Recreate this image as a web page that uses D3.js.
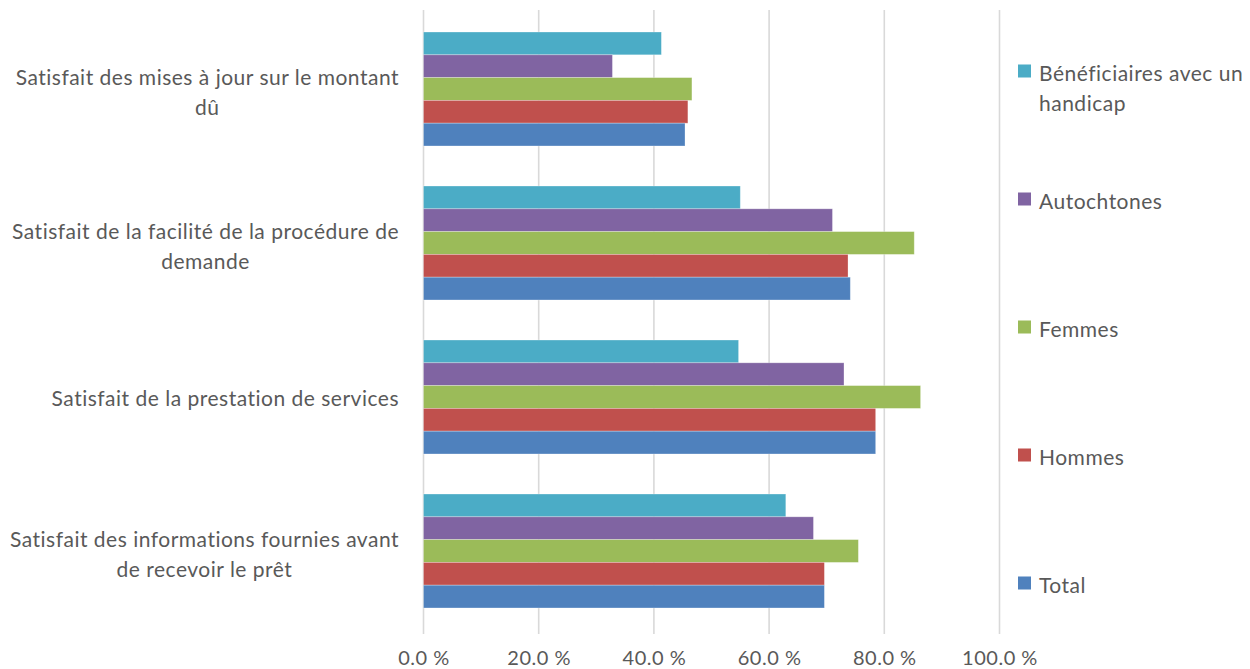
<!DOCTYPE html>
<html><head><meta charset="utf-8">
<script src="https://cdn.jsdelivr.net/npm/d3@7"></script>
<style>
html,body{margin:0;padding:0;background:#fff;}
svg text{font-family:Lato,"Open Sans",sans-serif;fill:#595959;letter-spacing:0.5px;}
</style></head>
<body>
<svg id="chart" width="1250" height="669"></svg>
<script>
const categories = [
  "Satisfait des mises à jour sur le montant dû",
  "Satisfait de la facilité de la procédure de demande",
  "Satisfait de la prestation de services",
  "Satisfait des informations fournies avant de recevoir le prêt"
];
const seriesNames = ["Bénéficiaires avec un handicap","Autochtones","Femmes","Hommes","Total"];
const beneficiaires = [41.3, 55.0, 54.7, 62.9];
const autochtones   = [32.8, 71.0, 73.0, 67.7];
const femmes        = [46.6, 85.2, 86.3, 75.5];
const hommes        = [45.9, 73.7, 78.5, 69.6];
const total         = [45.4, 74.1, 78.5, 69.6];
const ticks = [0, 20, 40, 60, 80, 100];
const colors = ["#4BACC6","#8064A2","#9BBB59","#C0504D","#4F81BD"];

const seriesValues = [beneficiaires, autochtones, femmes, hommes, total];
const svg = d3.select("#chart");
const plotLeft = 423.5, plotRight = 999.5, plotTop = 12, plotBottom = 628;
const fontSize = 21, lineH = 30;

const x = d3.scaleLinear().domain([0,100]).range([plotLeft,plotRight]);
const y = d3.scaleBand().domain(categories).range([plotTop,plotBottom]).paddingInner(0.26).paddingOuter(0.13);
const yInner = d3.scaleBand().domain(seriesNames).range([0,y.bandwidth()]);
const color = d3.scaleOrdinal().domain(seriesNames).range(colors);

// gridlines
svg.append("g").selectAll("line").data(ticks).join("line")
  .attr("x1", d=>x(d)).attr("x2", d=>x(d))
  .attr("y1", 10).attr("y2", 634)
  .attr("stroke", "#d9d9d9").attr("stroke-width", 1.6);

// bars
const data = [];
categories.forEach((c,i)=>seriesNames.forEach((s,j)=>data.push({c, s, v: seriesValues[j][i]})));
svg.append("g").selectAll("rect").data(data).join("rect")
  .attr("x", x(0))
  .attr("y", d=>y(d.c)+yInner(d.s))
  .attr("width", d=>x(d.v)-x(0))
  .attr("height", yInner.bandwidth())
  .attr("fill", d=>color(d.s))
  .attr("stroke", "rgba(255,255,255,0.35)").attr("stroke-width", 0.8);

// x axis labels
const xAxis = d3.axisBottom(x).tickValues(ticks).tickSize(0).tickFormat(d=>d3.format(".1f")(d)+" %");
const gx = svg.append("g").attr("transform", `translate(0,${plotBottom})`).call(xAxis);
gx.select(".domain").remove();
gx.selectAll("text").attr("dy", null).attr("y", 37).attr("font-size", 20)
  .style("font-family","Lato,'Open Sans',sans-serif").attr("fill","#595959");

function measure(text, fs){
  const tmp = svg.append("text").attr("font-size", fs).text(text);
  const w = tmp.node().getComputedTextLength();
  tmp.remove();
  return w;
}
function wrapWords(text, maxW, fs){
  const words = text.split(" ");
  const lines = []; let cur = "";
  words.forEach(w=>{
    const t = cur ? cur+" "+w : w;
    if (measure(t, fs) > maxW && cur){ lines.push(cur); cur = w; }
    else cur = t;
  });
  if (cur) lines.push(cur);
  return lines;
}

// category labels (block right-aligned, lines centred within block)
const gy = svg.append("g");
categories.forEach(c=>{
  const lines = wrapWords(c, 398, fontSize);
  const blockW = d3.max(lines, l=>measure(l, fontSize));
  const cx = 399 - blockW/2;
  const cy = y(c) + y.bandwidth()/2 + (lines.length>1 ? 2 : 0);
  const t = gy.append("text").attr("text-anchor","middle").attr("font-size",fontSize)
    .attr("dominant-baseline","central");
  lines.forEach((l,k)=>{
    t.append("tspan").attr("x",cx).attr("y", cy - (lines.length-1)*lineH/2 + k*lineH).text(l);
  });
});

// legend
const legY = d3.scalePoint().domain(seriesNames).range([72,584]);
const lg = svg.append("g");
seriesNames.forEach(s=>{
  const yy = legY(s);
  lg.append("rect").attr("x",1018).attr("y",yy-7.5).attr("width",13).attr("height",13).attr("fill",color(s));
  const lines = wrapWords(s, 212, fontSize);
  const t = lg.append("text").attr("font-size",fontSize).attr("dominant-baseline","central");
  lines.forEach((l,k)=>t.append("tspan").attr("x",1039).attr("y",yy+k*lineH).text(l));
});
</script>
</body></html>
